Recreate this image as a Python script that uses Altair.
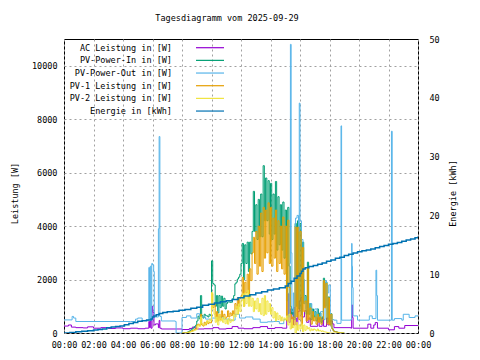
import altair as alt
import pandas as pd

# ---------------- data ----------------
TITLE = "Tagesdiagramm vom 2025-09-29"
LABELS = ["AC Leistung in [W]", "PV-Power-In in [W]", "PV-Power-Out in [W]",
          "PV-1 Leistung in [W]", "PV-2 Leistung in [W]", "Energie in [kWh]"]
X_TICKS = [0, 2, 4, 6, 8, 10, 12, 14, 16, 18, 20, 22, 24]
W_TICKS = [0, 2000, 4000, 6000, 8000, 10000]
E_TICKS = [0, 10, 20, 30, 40, 50]

# AC Leistung (hours, W) – step series
ac_t = [0.0, 0.3, 0.5, 0.8, 1.3, 1.6, 2.0, 2.5, 3.0, 3.5, 4.0, 4.5, 5.0, 5.5, 5.75, 5.8, 5.85, 5.9,
        5.97, 6.02, 6.1, 6.2, 6.4, 6.45, 6.5, 6.6, 7.6, 8.0, 8.5, 8.7, 8.9, 9.5, 10.1, 10.5, 11.0,
        11.4, 11.8, 12.2, 12.8, 13.3, 13.8, 14.3, 14.8, 15.1, 15.2, 15.25, 15.35, 15.45, 15.55,
        15.65, 15.75, 15.85, 15.95, 16.05, 16.15, 16.3, 16.45, 16.6, 16.7, 17.2, 17.3, 17.5, 17.6,
        17.8, 17.9, 18.0, 18.2, 18.3, 19.45, 19.5, 19.55, 19.6, 20.6, 20.8, 21.0, 21.1, 21.25,
        22.0, 22.4, 22.7, 23.1, 24.0]
ac_v = [260, 300, 220, 200, 190, 230, 180, 200, 170, 190, 160, 180, 160, 180, 430, 200, 450, 180,
        1000, 770, 300, 340, 200, 470, 180, 150, 150, 130, 170, 220, 150, 160, 200, 150, 170,
        240, 180, 160, 200, 240, 170, 200, 180, 600, 1460, 400, 900, 300, 950,
        560, 300, 800, 1200, 1330, 600, 830, 400, 560, 250, 560, 250, 560, 250,
        560, 300, 450, 340, 200, 180, 1050, 580, 180, 330, 180, 300, 390, 180,
        120, 240, 180, 280, 280]

# PV-Power-Out (hours, W) – step series
out_t = [0.0, 0.55, 0.65, 0.8, 4.5, 4.85, 5.0, 5.3, 5.7, 5.75, 5.8, 5.85, 5.9, 5.95, 6.0, 6.08,
         6.12, 6.4, 6.45, 6.5, 6.6, 7.55, 7.6, 8.0, 8.3, 8.6, 9.0, 9.2, 9.6, 10.0, 10.4, 10.8,
         11.2, 11.6, 11.9, 12.3, 12.8, 13.3, 13.8, 14.2, 14.6, 14.9, 15.1, 15.2, 15.3, 15.35,
         15.4, 15.45, 15.55, 15.6, 15.7, 15.8, 15.9, 15.95, 16.0, 16.1, 16.2, 16.3, 16.4, 16.6,
         16.8, 17.0, 17.2, 17.4, 17.6, 17.7, 17.8, 17.95, 18.05, 18.3, 18.5, 18.78, 18.82,
         19.45, 19.5, 19.53, 19.56, 19.6, 19.9, 20.7, 20.9, 21.15, 21.2, 21.25, 22.2, 22.25,
         22.4, 22.9, 23.0, 23.4, 23.8, 24.0]
out_v = [490, 620, 560, 430, 430, 520, 560, 470, 460, 2450, 500, 2500, 480, 2600, 2550, 2300,
         600, 3900, 7350, 620, 450, 430, 0, 580, 640, 560, 720, 600, 520, 560, 600, 520,
         480, 700, 560, 600, 520, 400, 420, 430, 350, 500, 1500, 600, 2600, 10800,
         3000, 800, 1500, 500, 4300, 4400, 3800, 8600, 4200, 3500, 2000, 1100, 900, 1100,
         700, 900, 600, 800, 500, 1960, 1500, 1800, 500, 480, 360, 7750, 480,
         500, 3350, 2500, 1700, 640, 480, 640, 540, 2350, 1400, 480, 7550, 480,
         540, 480, 700, 580, 640, 620]

# PV series: 5-minute samples starting at 08:00
PV_START = 8.0
pv_in = [0, 0, 5, 15, 30, 50, 80, 120, 150, 190, 240, 290,
         450, 630, 530, 1400, 650, 560, 700, 650, 640, 600, 700, 650,
         2700, 1850, 1800, 1000, 1400, 750, 1400, 950, 1380, 1000, 1300, 900,
         1100, 1160, 1160, 1150, 1150, 1280, 1400, 1840, 1900, 2020, 2090, 2200,
         2600, 3350, 2000, 3300, 2600, 3400, 2300, 3400, 2960, 3800, 5300, 3800,
         4800, 3500, 5000, 3600, 5200, 3600, 6260, 4200, 5800, 4200, 5700, 3700,
         5600, 3500, 5200, 3700, 5670, 3100, 5100, 3300, 4800, 3100, 4900, 2800,
         4600, 1200, 4700, 2500, 1000, 700, 900, 600, 4100, 1000, 4200, 900,
         4100, 700, 3400, 1100, 1400, 700, 2650, 700, 1100, 500, 900, 600,
         800, 450, 900, 500, 750, 400, 600, 2050, 1000, 1900, 400, 1350,
         320, 720, 160, 80, 55, 45, 30, 20, 10, 5, 0, 0,
         0]
pv_1 = [0, 0, 5, 10, 20, 30, 50, 70, 90, 110, 140, 170,
        300, 330, 280, 700, 300, 260, 400, 300, 450, 350, 400, 380,
        1470, 950, 1100, 600, 800, 450, 700, 500, 830, 600, 700, 550,
        600, 830, 600, 750, 650, 830, 700, 1100, 900, 1320, 1000, 1300,
        1400, 2080, 1000, 1900, 1500, 2200, 1300, 2400, 1960, 3000, 3580, 2600,
        3800, 2200, 4000, 2500, 4490, 2300, 4700, 2800, 4600, 3000, 4870, 2600,
        4700, 2500, 4300, 2800, 4600, 2300, 4200, 2600, 4000, 2400, 4340, 2200,
        4000, 450, 4220, 1700, 700, 200, 600, 300, 3960, 600, 3960, 500,
        3800, 300, 3200, 800, 1200, 450, 2450, 500, 940, 330, 800, 450,
        600, 330, 700, 400, 600, 330, 500, 1960, 940, 1850, 330, 1320,
        300, 700, 150, 75, 50, 40, 30, 20, 10, 5, 0, 0,
        0]
pv_2 = [0, 0, 0, 5, 10, 20, 30, 50, 60, 80, 100, 120,
        150, 300, 250, 600, 350, 300, 300, 350, 450, 400, 500, 450,
        1520, 900, 700, 400, 600, 300, 700, 450, 550, 400, 600, 350,
        500, 330, 560, 400, 500, 450, 700, 600, 1000, 700, 1090, 800,
        1200, 1470, 1000, 1500, 1100, 1600, 1000, 1400, 1000, 1300, 800, 1200,
        900, 1300, 800, 1100, 700, 1300, 650, 1400, 700, 1200, 800, 1100,
        700, 950, 560, 800, 450, 750, 500, 650, 450, 600, 450, 560,
        500, 640, 300, 700, 150, 500, 200, 300, 0, 400, 100, 300,
        150, 340, 50, 300, 100, 250, 150, 200, 80, 150, 100, 150,
        120, 80, 150, 75, 100, 60, 80, 50, 40, 30, 20, 10,
        0, 0, 0, 0, 0, 0, 0, 0, 0, 0, 0, 0,
        0]

# Energie (hours, kWh) – cumulative steps
en_t = [0.0, 0.4, 0.8, 1.2, 1.6, 2.0, 2.3, 2.6, 2.9, 3.2, 3.5, 3.8, 4.1, 4.4, 4.7, 5.0, 5.3, 5.6,
        5.9, 6.0, 6.1, 6.25, 6.45, 6.7, 7.0, 7.4, 7.8, 8.2, 8.6, 9.0, 9.4, 9.8, 10.2, 10.6, 11.0,
        11.4, 11.8, 12.2, 12.6, 13.0, 13.4, 13.8, 14.2, 14.6, 15.0, 15.2, 15.4, 15.6, 15.8, 16.0,
        16.1, 16.2, 16.35, 16.6, 16.9, 17.2, 17.5, 17.8, 18.1, 18.4, 18.7, 19.0, 19.3, 19.6,
        19.9, 20.2, 20.5, 20.8, 21.1, 21.4, 21.7, 22.0, 22.3, 22.6, 22.9, 23.2, 23.5, 23.8, 24.0]
en_v = [0.0, 0.1, 0.2, 0.3, 0.4, 0.5, 0.6, 0.7, 0.9, 1.0, 1.1, 1.2, 1.4, 1.6, 1.8, 2.0, 2.1, 2.2,
        2.4, 2.7, 2.9, 3.1, 3.3, 3.5, 3.6, 3.7, 3.85, 4.0, 4.2, 4.4, 4.7, 4.9, 5.1, 5.3, 5.5,
        5.7, 6.0, 6.3, 6.5, 6.8, 7.0, 7.3, 7.5, 7.7, 8.0, 8.4, 8.8, 9.3, 9.7, 10.1,
        10.5, 10.9, 11.1, 11.3, 11.5, 11.7, 11.9, 12.2, 12.4, 12.7, 12.9, 13.2, 13.4, 13.6,
        13.8, 14.0, 14.1, 14.3, 14.5, 14.7, 14.9, 15.1, 15.2, 15.4, 15.6, 15.8, 16.0, 16.2, 16.4]

# ---------------- styling ----------------
FONT = "DejaVu Sans Mono"
FS = 8.5
COLORS = ["#9400d3", "#009e73", "#56b4e9", "#e69f00", "#f0e442", "#0072b2"]

pv_t = [PV_START + i / 12 for i in range(len(pv_in))]

X = alt.X("t:Q", scale=alt.Scale(domain=[0, 24], nice=False, zero=False),
          axis=alt.Axis(values=X_TICKS, title=None, grid=True, ticks=False, domain=False,
                        labelPadding=7, labelFlush=False,
                        labelExpr="(datum.value % 24 < 10 ? '0' : '') + (datum.value % 24) + ':00'"))
YW = alt.Y("v:Q", scale=alt.Scale(domain=[0, 11000], nice=False),
           axis=alt.Axis(values=W_TICKS, format="d", grid=True, ticks=False, domain=False,
                         title="Leistung [W]", titleAngle=270, titleX=-50, titleY=154,
                         titleBaseline="middle", labelPadding=7))
YE = alt.Y("v:Q", scale=alt.Scale(domain=[0, 50], nice=False),
           axis=alt.Axis(values=E_TICKS, orient="right", grid=False, ticks=False, domain=False,
                         title="Energie [kWh]", titleAngle=270, titleX=34, titleY=154,
                         titleBaseline="middle", labelPadding=11))


def series(ts, vs, color, y, width=1.0):
    df = pd.DataFrame({"t": ts, "v": vs})
    return alt.Chart(df).mark_line(interpolate="step-after", color=color,
                                   strokeWidth=width, clip=True).encode(x=X, y=y)


power = alt.layer(
    series(ac_t, ac_v, COLORS[0], YW),
    series(pv_t, pv_in, COLORS[1], YW),
    series(out_t, out_v, COLORS[2], YW),
    series(pv_t, pv_1, COLORS[3], YW),
    series(pv_t, pv_2, COLORS[4], YW),
)
energy = series(en_t, en_v, COLORS[5], YE, 1.5)

leg = pd.DataFrame({"label": LABELS, "row": list(range(len(LABELS)))})
leg_base = alt.Chart(leg).transform_calculate(ypx="8.7 + datum.row * 12.67")
leg_text = leg_base.mark_text(align="right", baseline="middle", font=FONT, fontSize=FS,
                              color="black").encode(
    x=alt.value(108), y=alt.Y("ypx:Q", scale=None, axis=None), text="label:N")
leg_line = leg_base.mark_rule(strokeWidth=1.2).encode(
    x=alt.value(132), x2=alt.value(160), y=alt.Y("ypx:Q", scale=None, axis=None),
    color=alt.Color("label:N", scale=alt.Scale(domain=LABELS, range=COLORS), legend=None))

title = alt.Chart(pd.DataFrame({"t": [TITLE]})).mark_text(
    font=FONT, fontSize=FS, color="black", align="center", baseline="middle").encode(
    x=alt.value(163), y=alt.value(-21), text="t:N")

chart = alt.layer(power, energy, leg_line, leg_text, title).resolve_scale(
    y="independent"
).properties(
    width=354, height=294,
    padding={"left": 56, "top": 31, "right": 54, "bottom": 20},
    autosize=alt.AutoSizeParams(type="none"),
    background="white",
).configure_view(
    stroke="black", strokeWidth=1
).configure_axis(
    labelFont=FONT, labelFontSize=FS, labelColor="black",
    titleFont=FONT, titleFontSize=FS, titleColor="black", titleFontWeight="normal",
    gridColor="#a0a0a0", gridDash=[2, 3], gridWidth=1,
)

chart.save("out.html", embed_options={"renderer": "svg", "actions": False})
